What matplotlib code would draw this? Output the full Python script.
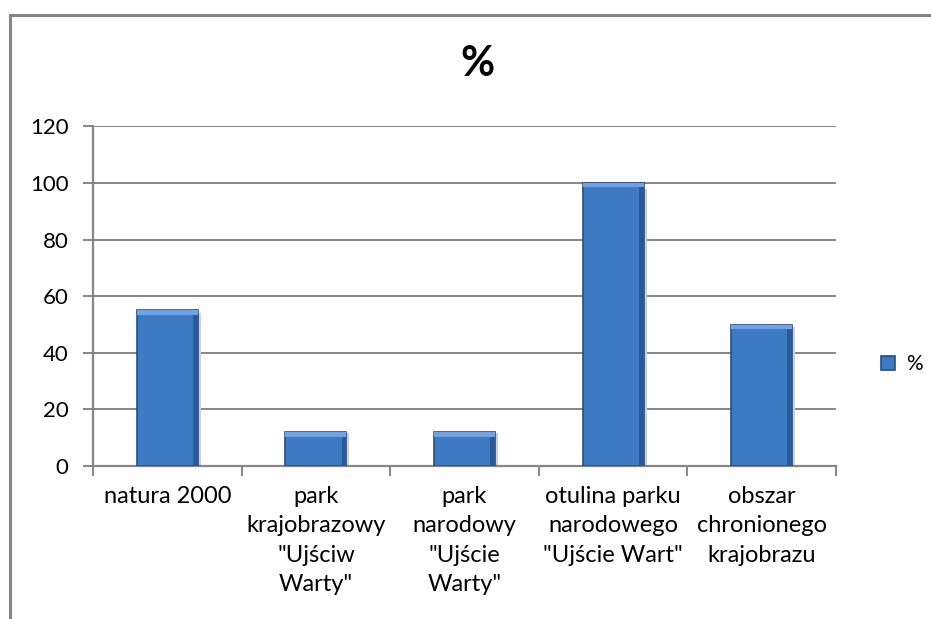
import matplotlib.pyplot as plt
from matplotlib.patches import Rectangle
from matplotlib.lines import Line2D
import numpy as np

plt.rcParams['font.family'] = ['Lato', 'DejaVu Sans']

categories = ['natura 2000',
              'park\nkrajobrazowy\n"Ujściw\nWarty"',
              'park\nnarodowy\n"Ujście\nWarty"',
              'otulina parku\nnarodowego\n"Ujście Wart"',
              'obszar\nchronionego\nkrajobrazu']
values = [55, 12, 12, 100, 50]
yticks = [0, 20, 40, 60, 80, 100, 120]

bar_color = '#3E7AC4'
edge_color = '#234F86'
grid_color = '#868686'

fig = plt.figure(figsize=(9.31, 6.19), dpi=100)
ax = fig.add_axes([0.0999, 0.247, 0.7981, 0.549])

x = np.arange(len(categories))
width = 0.41
bars = ax.bar(x, values, width=width, color=bar_color, edgecolor=edge_color,
              linewidth=1.2, zorder=3, label='%')

# simple bevel: lighter strip at the top, darker right side, soft shadow
for b in bars:
    bx, by = b.get_x(), b.get_y()
    bw, bh = b.get_width(), b.get_height()
    strip = min(1.6, bh * 0.15)
    ax.add_patch(Rectangle((bx, by + bh - strip), bw, strip, color='#6FA3E6',
                           zorder=4, linewidth=0))
    ax.add_patch(Rectangle((bx + bw * 0.92, by), bw * 0.08, bh - strip,
                           color='#2A5A98', zorder=4, linewidth=0))
    ax.add_patch(Rectangle((bx + bw, by), bw * 0.05, bh * 0.98,
                           color='#D0D0D0', zorder=2, linewidth=0))

ax.set_xlim(-0.5, len(categories) - 0.5)
ax.set_ylim(0, 120)
ax.set_yticks(yticks)
ax.set_yticklabels([str(t) for t in yticks], fontsize=16)
ax.yaxis.grid(True, color=grid_color, linewidth=1.4, zorder=0)
ax.set_axisbelow(True)

ax.set_xticks(x)
ax.set_xticklabels(categories, fontsize=17, linespacing=1.5, va='top')
ax.set_xticks(np.arange(-0.5, len(categories)), minor=True)
ax.tick_params(axis='x', which='major', length=0, pad=14)
ax.tick_params(axis='x', which='minor', length=7, width=1.4, color=grid_color)
ax.tick_params(axis='y', length=7.5, width=1.4, color=grid_color, pad=10)

for s in ['top', 'right']:
    ax.spines[s].set_visible(False)
for s in ['left', 'bottom']:
    ax.spines[s].set_color(grid_color)
    ax.spines[s].set_linewidth(1.6)

fig.text(0.513, 0.897, '%', fontsize=30, fontweight='bold', ha='center', va='center')

leg = ax.legend(loc='center left', bbox_to_anchor=(1.035, 0.30), frameon=False,
                fontsize=15, handlelength=0.7, handleheight=0.7, handletextpad=0.5)

# outer chart frame
fig.add_artist(Line2D([10 / 931, 1.0], [1 - 15 / 619, 1 - 15 / 619],
                      transform=fig.transFigure, color='#868686', linewidth=2.2))
fig.add_artist(Line2D([10 / 931, 10 / 931], [0.0, 1 - 15 / 619],
                      transform=fig.transFigure, color='#868686', linewidth=2.2))

fig.savefig('out.png', dpi=100)
